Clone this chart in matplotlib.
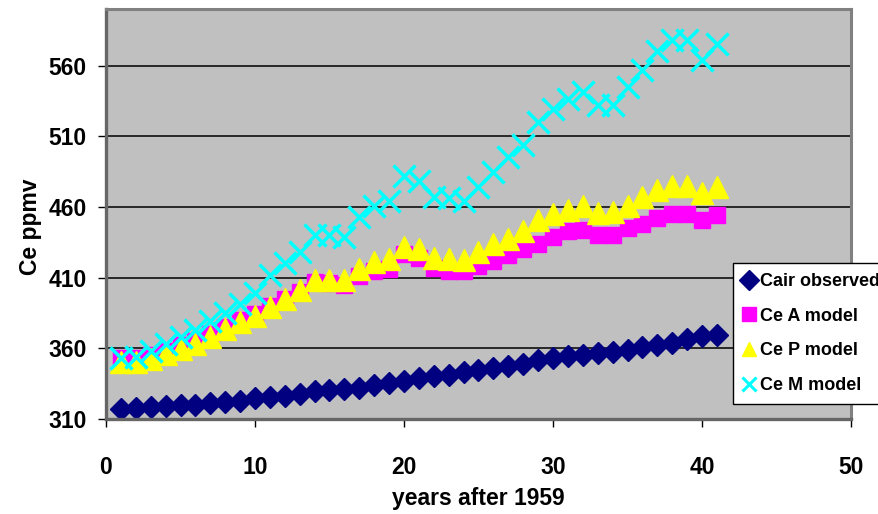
# CO2 concentration: observed vs three model runs
import matplotlib
matplotlib.use('Agg')
import matplotlib.pyplot as plt

plt.rcParams['font.family'] = ['Liberation Sans', 'DejaVu Sans']
plt.rcParams['font.weight'] = 'bold'

years = list(range(1, 42))

cair_observed = [316.9, 317.6, 318.5, 319.0, 319.6, 320.0, 321.4, 322.2, 323.0, 324.6,
                 325.7, 326.3, 327.5, 329.7, 330.2, 331.1, 332.1, 333.8, 335.4, 336.8,
                 338.7, 340.1, 341.4, 343.0, 344.6, 346.0, 347.4, 349.2, 351.6, 353.1,
                 354.4, 355.6, 356.4, 357.1, 358.8, 360.8, 362.6, 363.7, 366.7, 368.4,
                 369.6]

ce_a = [353, 353, 355, 358, 362, 365, 370, 375, 380, 384,
        390, 395, 400, 407, 406, 405, 411, 415, 416, 427,
        424, 417, 415, 415, 418, 422, 426, 430, 434, 439,
        443, 444, 440, 440, 445, 448, 452, 455, 455, 451,
        454]

ce_p = [350, 350, 352.5, 356, 359.5, 363, 368, 373.5, 378.5, 383,
        389, 395, 401, 408.5, 408.5, 408, 416, 421, 423, 432,
        430, 424, 423, 422.5, 428, 433.5, 437.5, 443, 450.5, 455,
        457.5, 460.5, 455.5, 456.5, 461, 467, 472, 475, 475, 470,
        474]

ce_m = [353, 354, 358, 363, 368, 373, 379, 385, 391, 399,
        412, 420, 428, 440, 440, 439, 453, 461, 464, 482,
        478, 467, 466, 464, 474, 485, 495, 504, 520, 529,
        536, 541, 532, 532, 545, 557, 570, 578, 578, 564,
        575]

fig = plt.figure(figsize=(8.79, 5.14), dpi=100)
ax = fig.add_axes([106/879, 1 - 419/514, 745/879, 410/514])
ax.set_facecolor('#C0C0C0')

ax.plot(years, cair_observed, linestyle='none', marker='D', ms=11.5, color='#000080',
        label='Cair observed')
ax.plot(years, ce_a, linestyle='none', marker='s', ms=12, color='#FF00FF',
        label='Ce A model')
ax.plot(years, ce_p, linestyle='none', marker='^', ms=15.5, color='#FFFF00',
        label='Ce P model')
ax.plot(years, ce_m, linestyle='none', marker='x', ms=16.5, mew=2.5, color='#00FFFF',
        label='Ce M model')

ax.set_xlim(0, 50)
ax.set_ylim(310, 600)
ax.set_xticks(range(0, 51, 10))
ax.set_yticks(range(310, 561, 50))
ax.yaxis.grid(True, color='black', linewidth=1.1)
ax.set_axisbelow(True)

for side in ['top', 'right']:
    ax.spines[side].set_color('#808080')
    ax.spines[side].set_linewidth(2.2)
for side in ['left', 'bottom']:
    ax.spines[side].set_color('#666666')
    ax.spines[side].set_linewidth(2.4)

ax.tick_params(axis='x', direction='out', length=6, width=1, pad=21, labelsize=16.5)
ax.tick_params(axis='y', direction='out', length=6, width=1, pad=8, labelsize=16.5)

ax.set_xlabel('years after 1959', fontsize=16.5, fontweight='bold')
ax.set_ylabel('Ce ppmv', fontsize=16.5, fontweight='bold')
ax.xaxis.set_label_coords(0.5, -0.165)
ax.yaxis.set_label_coords(-0.086, 0.47)

leg = ax.legend(loc='upper left', bbox_to_anchor=(733/879, 1 - 263/514),
                bbox_transform=fig.transFigure, fontsize=13, frameon=True,
                fancybox=False, edgecolor='black', framealpha=1,
                handlelength=0.7, handletextpad=0.25, labelspacing=0.98,
                borderpad=0.55, borderaxespad=0)
leg.get_frame().set_linewidth(1)
for h in leg.legend_handles:
    h.set_markersize(10)
    if h.get_marker() == 'x':
        h.set_markeredgewidth(2.2)

fig.savefig('out.png', dpi=100)
